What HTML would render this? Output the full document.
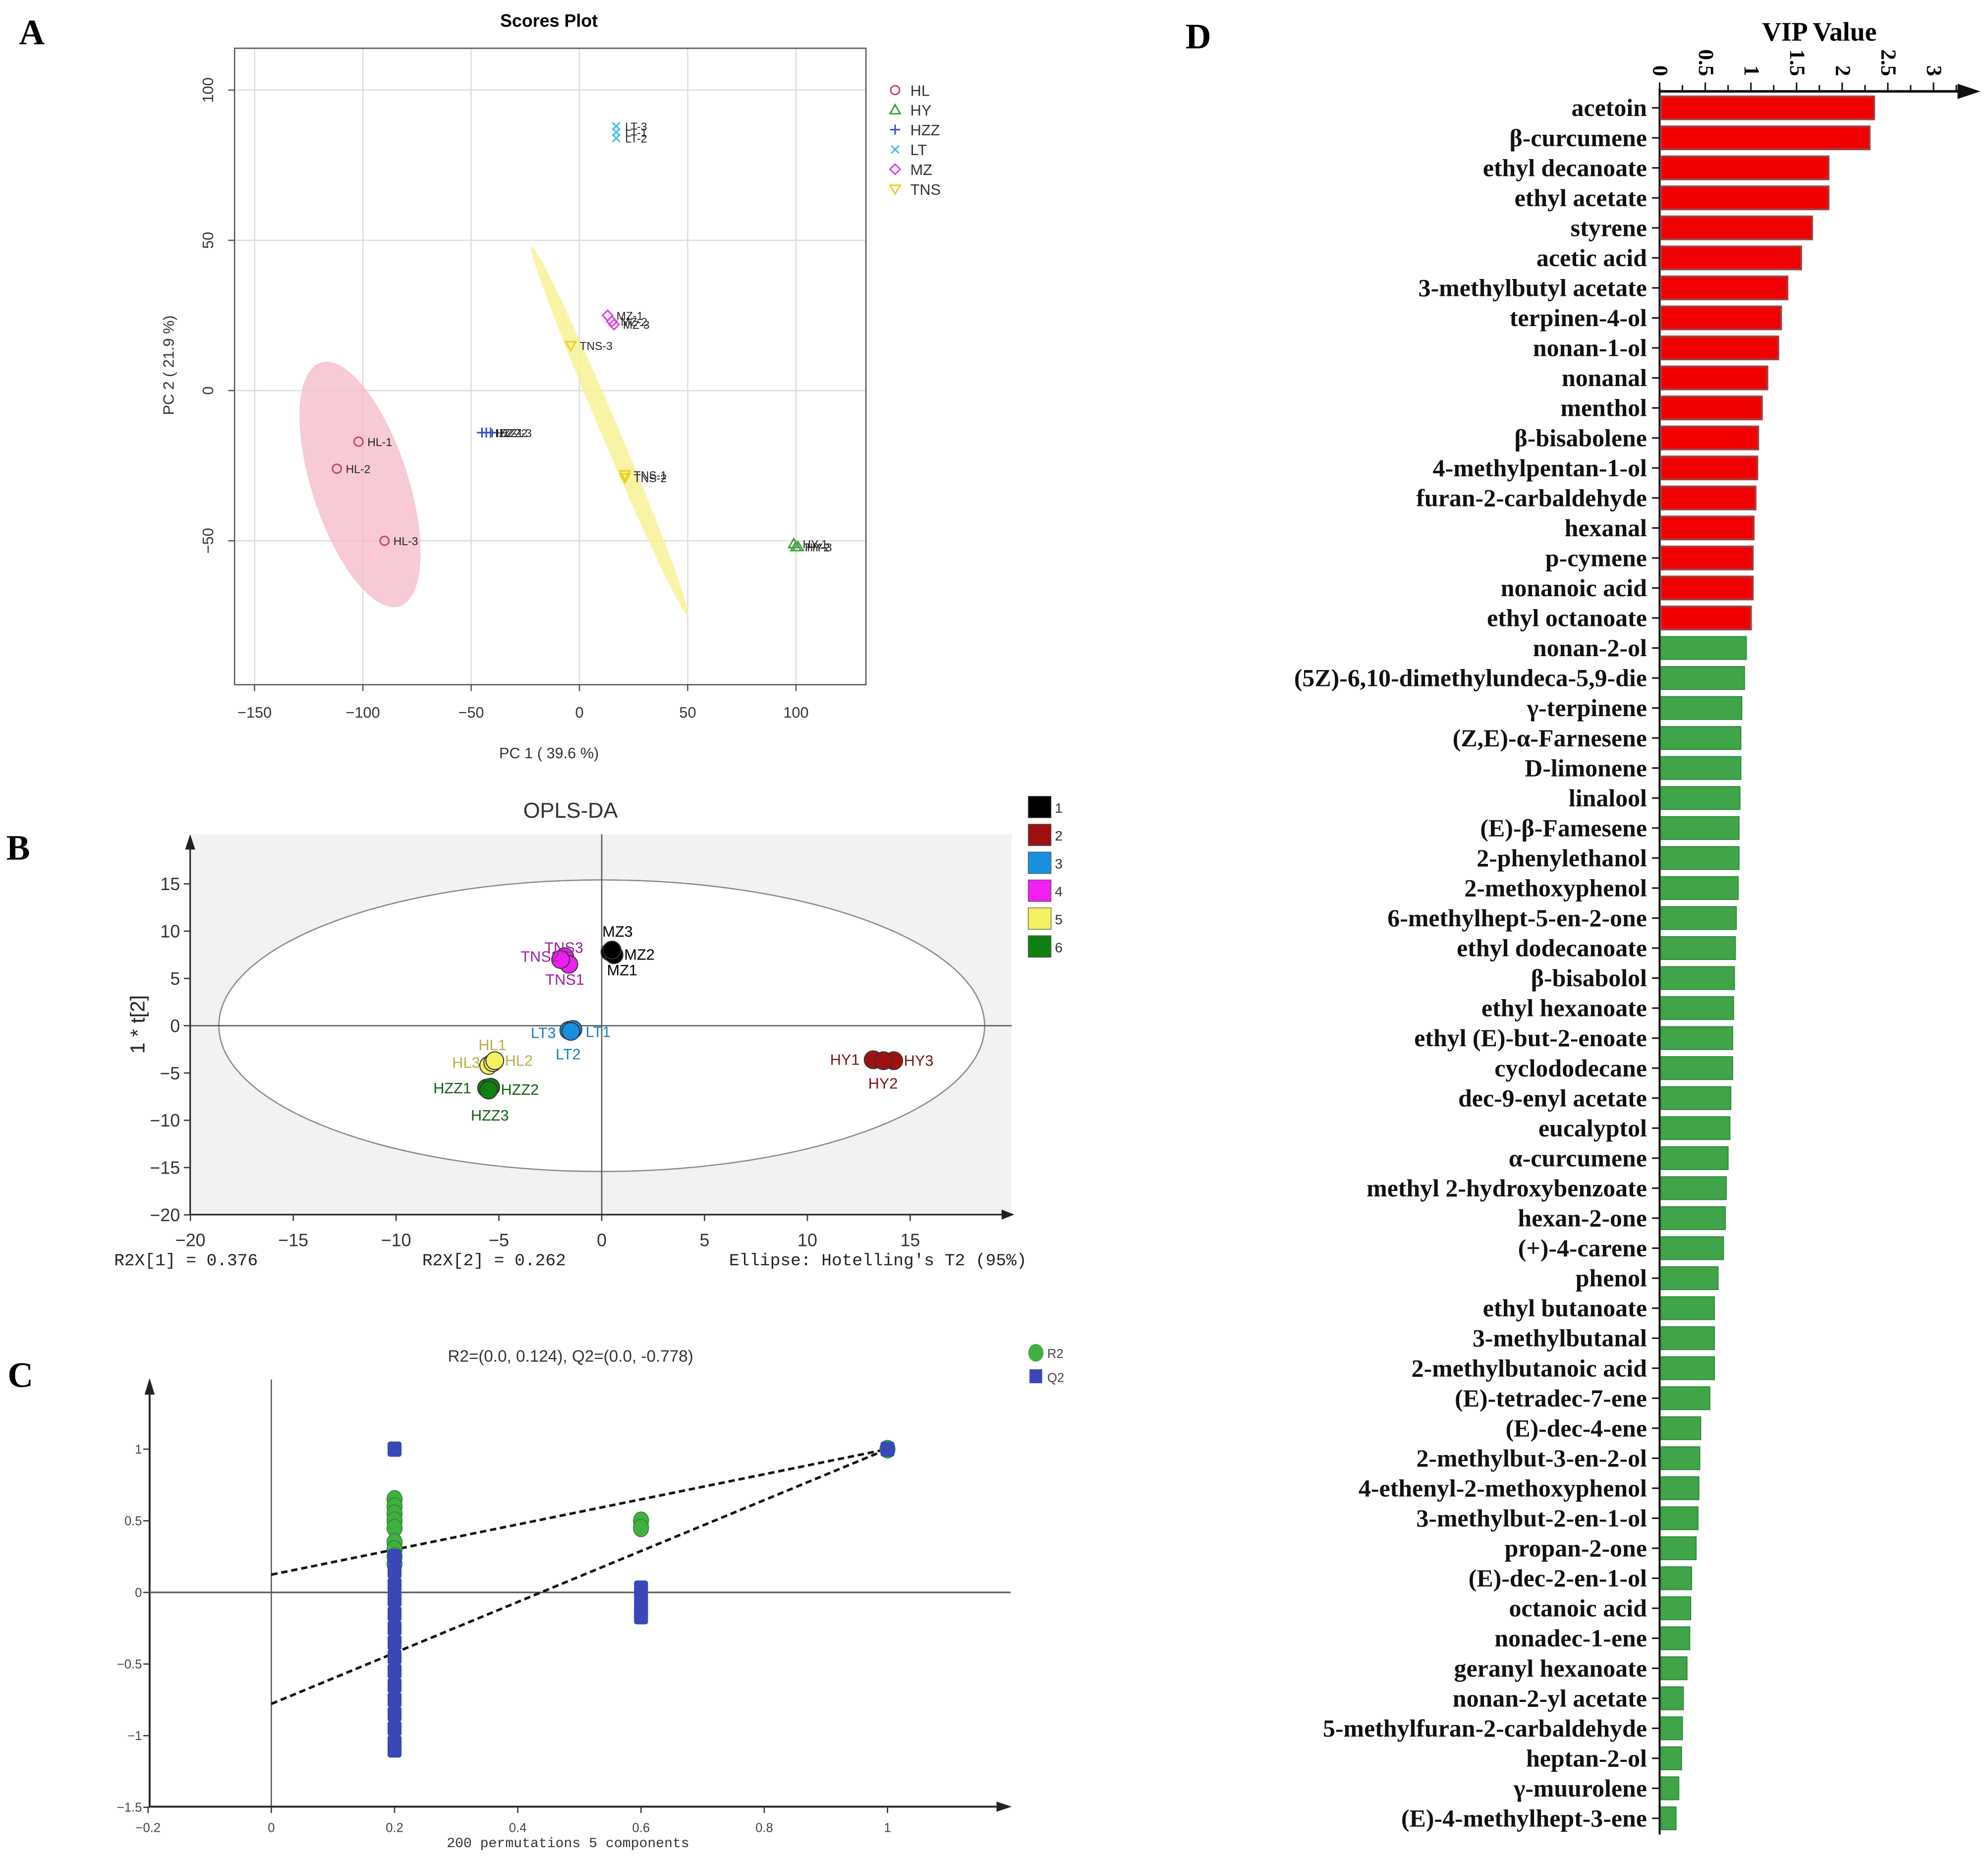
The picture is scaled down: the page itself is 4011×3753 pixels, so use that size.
<!DOCTYPE html>
<html><head><meta charset="utf-8"><style>
html,body{margin:0;padding:0;background:#fff;width:4011px;height:3753px;overflow:hidden}
svg{display:block}
</style></head><body>
<svg id="fig" xmlns="http://www.w3.org/2000/svg" width="4011" height="3753" viewBox="0 0 1568 1467" font-family="'Liberation Sans', sans-serif">
<rect width="1568" height="1467" fill="#fff"/>
<g id="pa"></g>
<g id="pb"></g>
<g id="pc"></g>
<g id="pd"></g>
</svg>
<script>
// ---------- Panel A data ----------
const aGroups = ['HL','HY','HZZ','LT','MZ','TNS'];
const aColors = ['#d04070','#40a040','#3050c0','#40c0e0','#e040e0','#e8d020'];
const aLabels = ['HL-1','HL-2','HL-3','HY-1','HY-2','HY-3','HZZ-1','HZZ-2','HZZ-3','LT-3','LT-1','LT-2','MZ-1','MZ-2','MZ-3','TNS-3','TNS-1','TNS-2'];
const aGroupIdx = [0,0,0,1,1,1,2,2,2,3,3,3,4,4,4,5,5,5];
const aX = [-102,-112,-90,99,100,101,-45,-43,-41,17,17,17,13,15,16,-4,21,21];
const aY = [-17,-26,-50,-51,-52,-52,-14,-14,-14,88,86,84,25,23,22,15,-28,-29];
const aXTicks = [-150,-100,-50,0,50,100];
const aYTicks = [100,50,0,-50];
// ---------- Panel B data ----------
const bLabels = ['TNS3','TNS2','TNS1','MZ3','MZ2','MZ1','LT3','LT1','LT2','HL1','HL3','HL2','HZZ1','HZZ2','HZZ3','HY1','HY3','HY2'];
const bGroup = [3,3,3,0,0,0,2,2,2,4,4,4,5,5,5,1,1,1];
const bX = [-1.8,-1.6,-2.0,0.4,0.6,0.5,-1.6,-1.4,-1.5,-5.5,-5.3,-5.2,-5.6,-5.4,-5.5,13.2,14.2,13.7];
const bY = [7.3,6.5,7.0,7.8,7.5,8.0,-0.5,-0.4,-0.6,-4.2,-3.9,-3.7,-6.6,-6.5,-6.8,-3.6,-3.7,-3.7];
const bColors = ['#000000','#a01010','#1890e0','#f020f0','#f4f060','#108010'];
const bLegend = ['1','2','3','4','5','6'];
const bXTicks = [-20,-15,-10,-5,0,5,10,15];
const bYTicks = [15,10,5,0,-5,-10,-15,-20];
// ---------- Panel C data ----------
const cR2x = [0.2,0.2,0.2,0.2,0.2,0.2,0.2,0.2,0.2,0.6,0.6,1];
const cR2y = [0.65,0.6,0.55,0.5,0.45,0.35,0.3,0.25,0.2,0.5,0.45,1];
const cQ2x = [0.2,0.2,0.2,0.2,0.2,0.2,0.2,0.2,0.2,0.2,0.2,0.2,0.2,0.2,0.2,0.2,0.6,0.6,0.6,0.6,1];
const cQ2y = [1.0,0.25,0.15,0.05,-0.05,-0.15,-0.25,-0.35,-0.45,-0.55,-0.65,-0.75,-0.85,-0.95,-1.05,-1.1,0.03,-0.05,-0.12,-0.17,1.0];
const cR2Int = 0.124, cQ2Int = -0.778;
const cXTicks = [-0.2,0,0.2,0.4,0.6,0.8,1];
const cYTicks = [1,0.5,0,-0.5,-1,-1.5];
// ---------- Panel D data ----------
const dNames = ['acetoin','β-curcumene','ethyl decanoate','ethyl acetate','styrene','acetic acid','3-methylbutyl acetate','terpinen-4-ol','nonan-1-ol','nonanal','menthol','β-bisabolene','4-methylpentan-1-ol','furan-2-carbaldehyde','hexanal','p-cymene','nonanoic acid','ethyl octanoate','nonan-2-ol','(5Z)-6,10-dimethylundeca-5,9-die','γ-terpinene','(Z,E)-α-Farnesene','D-limonene','linalool','(E)-β-Famesene','2-phenylethanol','2-methoxyphenol','6-methylhept-5-en-2-one','ethyl dodecanoate','β-bisabolol','ethyl hexanoate','ethyl (E)-but-2-enoate','cyclododecane','dec-9-enyl acetate','eucalyptol','α-curcumene','methyl 2-hydroxybenzoate','hexan-2-one','(+)-4-carene','phenol','ethyl butanoate','3-methylbutanal','2-methylbutanoic acid','(E)-tetradec-7-ene','(E)-dec-4-ene','2-methylbut-3-en-2-ol','4-ethenyl-2-methoxyphenol','3-methylbut-2-en-1-ol','propan-2-one','(E)-dec-2-en-1-ol','octanoic acid','nonadec-1-ene','geranyl hexanoate','nonan-2-yl acetate','5-methylfuran-2-carbaldehyde','heptan-2-ol','γ-muurolene','(E)-4-methylhept-3-ene'];
const dValues = [2.35,2.3,1.85,1.85,1.67,1.55,1.4,1.33,1.3,1.18,1.12,1.08,1.07,1.05,1.03,1.02,1.02,1.0,0.95,0.93,0.9,0.89,0.89,0.88,0.87,0.87,0.86,0.84,0.83,0.82,0.81,0.8,0.8,0.78,0.77,0.75,0.73,0.72,0.7,0.64,0.6,0.6,0.6,0.55,0.45,0.44,0.43,0.42,0.4,0.35,0.34,0.33,0.3,0.26,0.25,0.24,0.21,0.18];
const dTicks = ['0','0.5','1','1.5','2','2.5','3'];
const dTickVals = [0,0.5,1,1.5,2,2.5,3];

const NS='http://www.w3.org/2000/svg';
function mk(parent,tag,attrs,text){const e=document.createElementNS(NS,tag);for(const k in attrs)e.setAttribute(k,attrs[k]);if(text!==undefined)e.textContent=text;parent.appendChild(e);return e;}
const serif="'Liberation Serif', serif";

// ===== Panel A =====
(function(){
const g=document.getElementById('pa');
const ax=v=>457+v*85.4/50, ay=v=>308-v*118.5/50;
let t=mk(g,'text',{x:15,y:35,'font-size':28,'font-weight':'bold','font-family':serif},'A');


t=mk(g,'text',{x:433,y:21,'font-size':14,'font-weight':'bold','text-anchor':'middle'},'Scores Plot');


aXTicks.forEach(v=>{const l=mk(g,'line',{x1:ax(v),x2:ax(v),y1:38,y2:540,stroke:'#ddd','stroke-width':1});


const tx=mk(g,'text',{x:ax(v),y:566,'font-size':12,'text-anchor':'middle',fill:'#333'},v===0?'0':String(v).replace('-','−'));


mk(g,'line',{x1:ax(v),x2:ax(v),y1:540,y2:545,stroke:'#555'});});
aYTicks.forEach(v=>{const l=mk(g,'line',{x1:185,x2:683,y1:ay(v),y2:ay(v),stroke:'#ddd','stroke-width':1});


const tx=mk(g,'text',{x:0,y:0,'font-size':12,'text-anchor':'middle',fill:'#333',transform:`translate(168,${ay(v)}) rotate(-90)`},v===0?'0':String(v).replace('-','−'));


mk(g,'line',{x1:180,x2:185,y1:ay(v),y2:ay(v),stroke:'#555'});});
let e=mk(g,'rect',{x:185,y:38,width:498,height:502,fill:'none',stroke:'#555','stroke-width':1});


e=mk(g,'ellipse',{cx:284,cy:382,rx:38,ry:101,fill:'#f4b8c8','fill-opacity':0.75,transform:'rotate(-18 284 382)'});


e=mk(g,'ellipse',{cx:481,cy:340,rx:158,ry:7,fill:'#f8f090','fill-opacity':0.8,transform:'rotate(67 481 340)'});


function marker(gr,x,y,c){
 if(gr===0)return mk(g,'circle',{cx:x,cy:y,r:3.5,fill:'none',stroke:c,'stroke-width':1.2});
 if(gr===1)return mk(g,'path',{d:`M${x},${y-4}L${x+4},${y+3}L${x-4},${y+3}Z`,fill:'none',stroke:c,'stroke-width':1.2});
 if(gr===2)return mk(g,'path',{d:`M${x-4},${y}H${x+4}M${x},${y-4}V${y+4}`,stroke:c,'stroke-width':1.2});
 if(gr===3)return mk(g,'path',{d:`M${x-3},${y-3}L${x+3},${y+3}M${x+3},${y-3}L${x-3},${y+3}`,stroke:c,'stroke-width':1.2});
 if(gr===4)return mk(g,'path',{d:`M${x},${y-4}L${x+4},${y}L${x},${y+4}L${x-4},${y}Z`,fill:'none',stroke:c,'stroke-width':1.2});
 return mk(g,'path',{d:`M${x-4},${y-3}L${x+4},${y-3}L${x},${y+4}Z`,fill:'none',stroke:c,'stroke-width':1.2});
}
aX.forEach((v,i)=>{const x=ax(v),y=ay(aY[i]);const gi=aGroupIdx[i];
 const m=marker(gi,x,y,aColors[gi]);
 
 
 const tx=mk(g,'text',{x:x+7,y:y+3.5,'font-size':9,fill:'#222'},aLabels[i]);
 
 });
aGroups.forEach((n,i)=>{const y=71+i*15.6;const m=marker(i,706,y,aColors[i]);
 
 
 const tx=mk(g,'text',{x:718,y:y+4.5,'font-size':12,fill:'#333'},n);
 
 });
t=mk(g,'text',{x:433,y:598,'font-size':12,'text-anchor':'middle',fill:'#333'},'PC 1 ( 39.6 %)');


t=mk(g,'text',{x:0,y:0,'font-size':12,'text-anchor':'middle',fill:'#333',transform:'translate(137,288) rotate(-90)'},'PC 2 ( 21.9 %)');


})();

// ===== Panel B =====
(function(){
const g=document.getElementById('pb');
const bx=v=>474.6+v*81.1/5, by=v=>809-v*37.3/5;
let t=mk(g,'text',{x:5,y:678,'font-size':28,'font-weight':'bold','font-family':serif},'B');


t=mk(g,'text',{x:450,y:645,'font-size':17,'text-anchor':'middle',fill:'#333'},'OPLS-DA');


let e=mk(g,'rect',{x:150,y:658,width:648,height:300,fill:'#f2f2f2'});


e=mk(g,'ellipse',{cx:474.6,cy:809,rx:302,ry:115,fill:'#fff',stroke:'#888','stroke-width':1});


mk(g,'line',{x1:150,x2:798,y1:809,y2:809,stroke:'#555'});
mk(g,'line',{x1:474.6,x2:474.6,y1:658,y2:958,stroke:'#555'});
mk(g,'line',{x1:150,x2:790,y1:958,y2:958,stroke:'#222','stroke-width':1.2});
mk(g,'path',{d:'M790,954L800,958L790,962Z',fill:'#222'});
mk(g,'line',{x1:150,x2:150,y1:958,y2:668,stroke:'#222','stroke-width':1.2});
mk(g,'path',{d:'M146,670L150,658L154,670Z',fill:'#222'});
bXTicks.forEach(v=>{mk(g,'line',{x1:bx(v),x2:bx(v),y1:958,y2:963,stroke:'#333'});
 const tx=mk(g,'text',{x:bx(v),y:983,'font-size':14,'text-anchor':'middle',fill:'#333'},v<0?'−'+(-v):String(v));
 
 });
bYTicks.forEach(v=>{mk(g,'line',{x1:145,x2:150,y1:by(v),y2:by(v),stroke:'#333'});
 const tx=mk(g,'text',{x:142,y:by(v)+5,'font-size':14,'text-anchor':'end',fill:'#333'},v<0?'−'+(-v):String(v));
 
 });
const offs=[[-16,-3],[-38,-2],[-12,20],[-6,-12],[8,4],[-4,20],[-30,6],[10,6],[-12,22],[-8,-12],[-32,4],[8,4],[-42,4],[8,6],[-14,24],[-34,4],[8,4],[-12,22]];
bX.forEach((v,i)=>{const x=bx(v),y=by(bY[i]);const c=bColors[bGroup[i]];
 const m=mk(g,'circle',{cx:x,cy:y,r:7,fill:c,stroke:'#333','stroke-width':0.8});
 
 });
const lc=['#a020a0','#000','#1a80c0','#b8b040','#106010','#801010'];
bX.forEach((v,i)=>{const x=bx(v),y=by(bY[i]);
 const tx=mk(g,'text',{x:x+offs[i][0],y:y+offs[i][1],'font-size':12,fill:lc[[3,0,2,4,5,1].indexOf(bGroup[i])]},bLabels[i]);
 
 });
bLegend.forEach((n,i)=>{const y=628+i*22;
 const r=mk(g,'rect',{x:811,y:y,width:18,height:17,fill:bColors[i],stroke:'#555','stroke-width':0.5});
 
 
 const tx=mk(g,'text',{x:832,y:y+13,'font-size':11,fill:'#333'},n);
 
 });
t=mk(g,'text',{x:0,y:0,'font-size':16,'text-anchor':'middle',fill:'#222',transform:'translate(114,808) rotate(-90)'},'1 * t[2]');


const foot=[[90,'R2X[1] = 0.376'],[333,'R2X[2] = 0.262'],[575,"Ellipse: Hotelling's T2 (95%)"]];
foot.forEach(f=>{const tx=mk(g,'text',{x:f[0],y:998,'font-size':13.5,'font-family':"'Liberation Mono', monospace",fill:'#222'},f[1]);
 
 });
})();

// ===== Panel C =====
(function(){
const g=document.getElementById('pc');
const cx=v=>214+v*(700-214), cy=v=>1256-v*113;
let t=mk(g,'text',{x:6,y:1094,'font-size':28,'font-weight':'bold','font-family':serif},'C');


t=mk(g,'text',{x:450,y:1074,'font-size':13,'text-anchor':'middle',fill:'#333'},'R2=(0.0, 0.124), Q2=(0.0, -0.778)');


mk(g,'line',{x1:118,x2:790,y1:1425,y2:1425,stroke:'#222','stroke-width':1.5});
mk(g,'path',{d:'M786,1421L798,1425L786,1429Z',fill:'#222'});
mk(g,'line',{x1:118,x2:118,y1:1425,y2:1094,stroke:'#222','stroke-width':1.5});
mk(g,'path',{d:'M114,1100L118,1087L122,1100Z',fill:'#222'});
mk(g,'line',{x1:214,x2:214,y1:1088,y2:1425,stroke:'#333','stroke-width':0.8});
mk(g,'line',{x1:118,x2:797,y1:1256,y2:1256,stroke:'#555','stroke-width':1.2});
cXTicks.forEach(v=>{mk(g,'line',{x1:cx(v),x2:cx(v),y1:1425,y2:1430,stroke:'#333'});
 const tx=mk(g,'text',{x:cx(v),y:1445,'font-size':10,'text-anchor':'middle',fill:'#444'},String(v).replace('-','−'));
 
 });
cYTicks.forEach(v=>{mk(g,'line',{x1:113,x2:118,y1:cy(v),y2:cy(v),stroke:'#333'});
 const tx=mk(g,'text',{x:112,y:cy(v)+3.5,'font-size':10,'text-anchor':'end',fill:'#444'},String(v).replace('-','−'));
 
 });
let l=mk(g,'line',{x1:cx(0),y1:cy(cR2Int),x2:cx(1),y2:cy(1),stroke:'#111','stroke-width':2,'stroke-dasharray':'5,3'});


l=mk(g,'line',{x1:cx(0),y1:cy(cQ2Int),x2:cx(1),y2:cy(1),stroke:'#111','stroke-width':2,'stroke-dasharray':'5,3'});


cR2x.forEach((v,i)=>{const m=mk(g,'ellipse',{cx:cx(v),cy:cy(cR2y[i]),rx:6,ry:7,fill:'#40b040',stroke:'#2a802a','stroke-width':0.6});
 
 });
cQ2x.forEach((v,i)=>{const m=mk(g,'rect',{x:cx(v)-5.5,y:cy(cQ2y[i])-6,width:11,height:12,rx:2,fill:'#3848b8'});
 
 });
let m=mk(g,'ellipse',{cx:817,cy:1067,rx:6,ry:7,fill:'#40b040'});


t=mk(g,'text',{x:826,y:1071,'font-size':10,fill:'#444'},'R2');


m=mk(g,'rect',{x:812,y:1080,width:10,height:11,fill:'#3848b8'});


t=mk(g,'text',{x:826,y:1090,'font-size':10,fill:'#444'},'Q2');


t=mk(g,'text',{x:448,y:1457,'font-size':11,'text-anchor':'middle','font-family':"'Liberation Mono', monospace",fill:'#333'},'200 permutations 5 components');


})();

// ===== Panel D =====
(function(){
const g=document.getElementById('pd');
const dx=v=>1309+v*72, dy=i=>85+i*23.67;
let t=mk(g,'text',{x:935,y:38,'font-size':28,'font-weight':'bold','font-family':serif},'D');


t=mk(g,'text',{x:1435,y:32,'font-size':21,'font-weight':'bold','text-anchor':'middle','font-family':serif},'VIP Value');


mk(g,'line',{x1:1309,x2:1548,y1:72,y2:72,stroke:'#111','stroke-width':2});
mk(g,'path',{d:'M1544,66L1562,72L1544,78Z',fill:'#111'});
mk(g,'line',{x1:1309,x2:1309,y1:70,y2:1447,stroke:'#111','stroke-width':1.6});
for(let k=0;k<=13;k++){const v=k*0.25;mk(g,'line',{x1:dx(v),x2:dx(v),y1:72,y2:(k%2?67:65),stroke:'#111','stroke-width':1.2});}
dTickVals.forEach((v,i)=>{const tx=mk(g,'text',{x:0,y:0,'font-size':17,'font-weight':'bold','font-family':serif,transform:`translate(${dx(v)-5},60) rotate(90)`,'text-anchor':'end'},dTicks[i]);
 
 });
dValues.forEach((v,i)=>{const y=dy(i);const red=i<18;
 const r=mk(g,'rect',{x:1310,y:y-9,width:dx(v)-1310,height:18,fill:red?'#f00000':'#3fa548',stroke:red?'#a04040':'#2e8a3a','stroke-width':red?1.5:0.8});
 
 
 mk(g,'line',{x1:1303,x2:1309,y1:y,y2:y,stroke:'#111','stroke-width':1.2});
 const tx=mk(g,'text',{x:1299,y:y+6.5,'font-size':19.5,'font-weight':'bold','font-family':serif,'text-anchor':'end',fill:'#111'},dNames[i]);
 
 });
})();
</script>
</body></html>
